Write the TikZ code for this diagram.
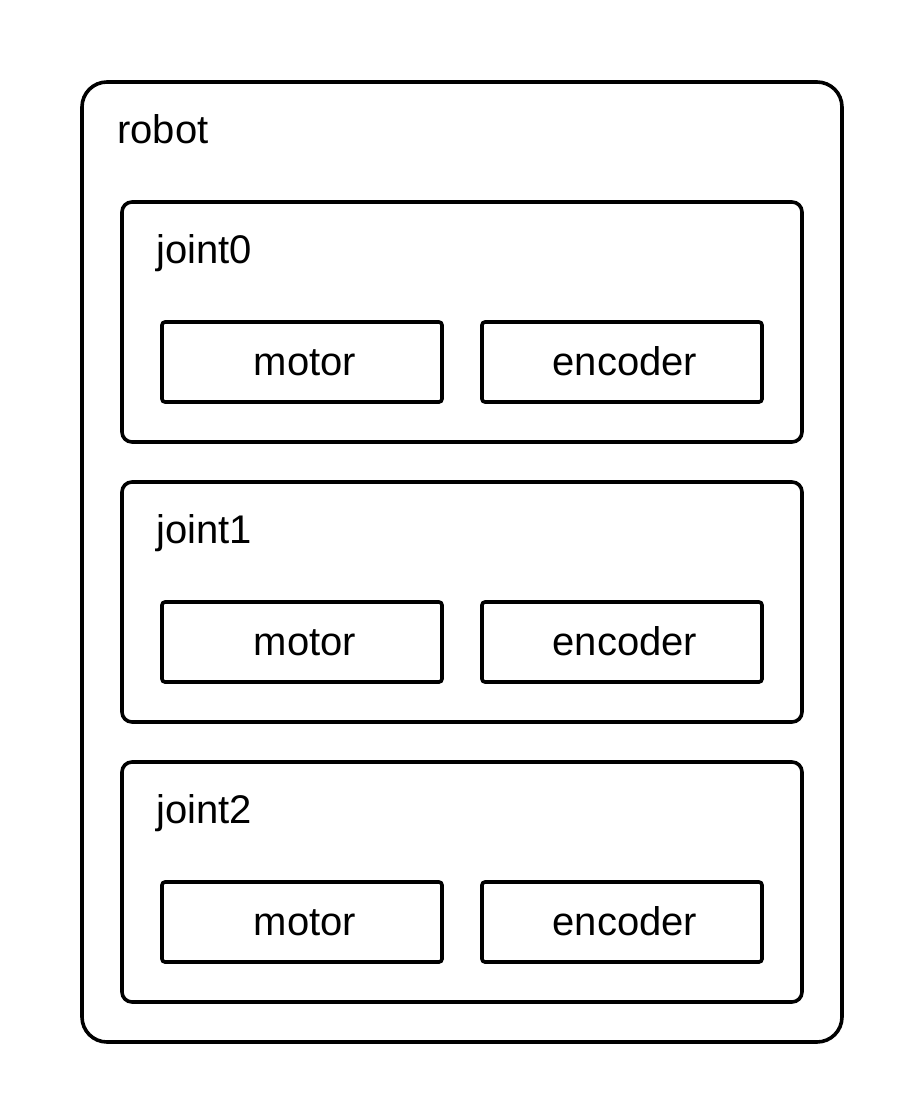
\documentclass[tikz,border=0pt]{standalone}
\usepackage{fontspec}
\setmainfont{Liberation Sans}
\begin{document}
\begin{tikzpicture}[x=1pt,y=-1pt,
  outerbox/.style={draw=black,line width=3.6pt,rounded corners=25pt},
  jointbox/.style={draw=black,line width=3.6pt,rounded corners=10pt},
  partbox/.style={draw=black,line width=3.6pt,rounded corners=3pt},
  lbl/.style={inner sep=0pt,anchor=base west,font=\fontsize{40}{48}\selectfont},
  partlbl/.style={inner sep=0pt,anchor=base,font=\fontsize{40}{48}\selectfont}]
\useasboundingbox[fill=white] (0,0) rectangle (920,1120);
\draw[outerbox] (82,82) rectangle (842,1042);
\node[lbl] (robotlbl) at (117,143) {robot};
\foreach \i/\y in {0/202,1/482,2/762}{
  \draw[jointbox] (122,\y) rectangle (802,\y+240);
  \node[lbl] (joint\i) at (156,\y+61) {joint\i};
  \draw[partbox] (162,\y+120) rectangle (442,\y+200);
  \node[partlbl] (motor\i) at (305,\y+173) {motor};
  \draw[partbox] (482,\y+120) rectangle (762,\y+200);
  \node[partlbl] (enc\i) at (625,\y+173) {encoder};
}
\end{tikzpicture}
\end{document}
